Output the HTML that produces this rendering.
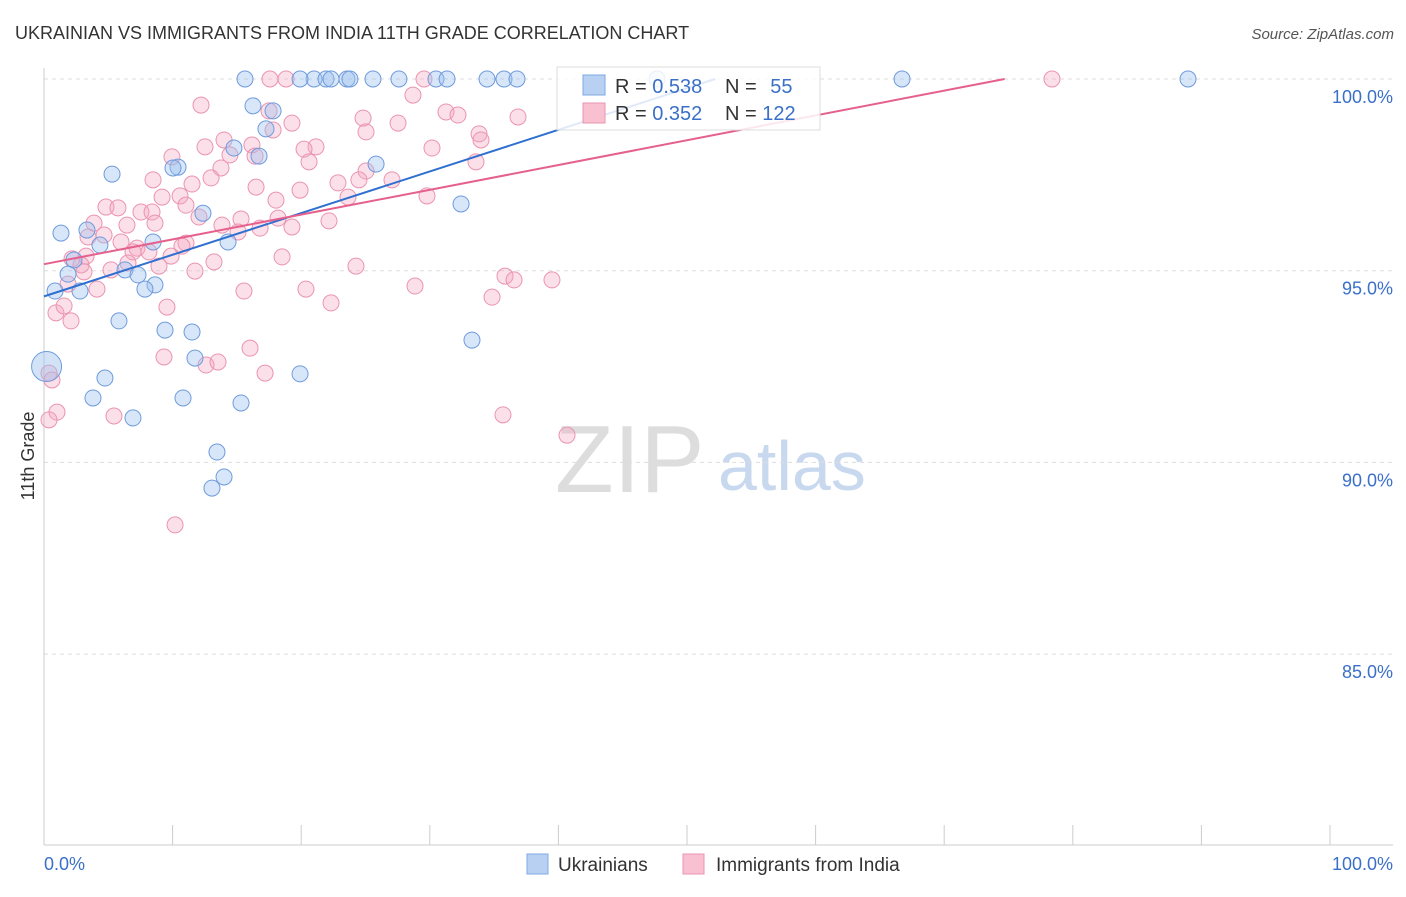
<!DOCTYPE html>
<html><head><meta charset="utf-8"><style>
body{margin:0;background:#fff;font-family:"Liberation Sans",sans-serif;}
svg text{font-family:"Liberation Sans",sans-serif;}
</style></head><body>
<svg id="chart" width="1406" height="892" xmlns="http://www.w3.org/2000/svg">
<text x="15" y="39" font-size="18" fill="#333">UKRAINIAN VS IMMIGRANTS FROM INDIA 11TH GRADE CORRELATION CHART</text>
<text x="1394" y="39" font-size="15" fill="#555" text-anchor="end" font-style="italic">Source: ZipAtlas.com</text>
<text transform="translate(34,456) rotate(-90)" font-size="18" fill="#333" text-anchor="middle">11th Grade</text>
<text x="555" y="492" font-size="96" fill="#ddd" font-family="Liberation Serif">ZIP</text>
<text x="718" y="490" font-size="70" fill="#c8d8ee">atlas</text>
<g id="grid"></g><g id="pts"></g><g id="lines"></g>
<g>
<rect x="557" y="67" width="263" height="63" fill="#fff" fill-opacity="0.85" stroke="#ddd"/>
<rect x="583" y="75" width="22" height="20" fill="#b8d1f3" stroke="#7fa8e0"/>
<rect x="583" y="103" width="22" height="20" fill="#f8c0d0" stroke="#eb94b0"/>
<text x="615" y="93" font-size="20" fill="#333">R = <tspan fill="#3a70c8">0.538</tspan></text>
<text x="725" y="93" font-size="20" fill="#333">N = <tspan fill="#3a70c8" dx="8">55</tspan></text>
<text x="615" y="120" font-size="20" fill="#333">R = <tspan fill="#3a70c8">0.352</tspan></text>
<text x="725" y="120" font-size="20" fill="#333">N = <tspan fill="#3a70c8">122</tspan></text>
</g>
<g>
<rect x="527" y="854" width="21" height="20" fill="#b8d1f3" stroke="#7fa8e0"/>
<text x="558" y="871" font-size="19" fill="#333">Ukrainians</text>
<rect x="683" y="854" width="21" height="20" fill="#f8c0d0" stroke="#eb94b0"/>
<text x="716" y="871" font-size="19" fill="#333">Immigrants from India</text>
</g>
</svg>
<script>
const yTicks=[100,95,90,85];
const yTickLabels=["100.0%","95.0%","90.0%","85.0%"];
const xTickLabels=["0.0%","100.0%"];
const bluePx=[[245,79],[314,79],[326,79],[331,79],[300,79],[347,79],[350,79],[373,79],[399,79],[436,79],[447,79],[487,79],[504,79],[517,79],[657,79],[902,79],[1188,79],[253,106],[273,111],[266,129],[234,148],[259,156],[178,167],[173,168],[376,164],[112,174],[203,213],[461,204],[61,233],[87,230],[228,242],[153,242],[100,245],[74,260],[125,270],[138,275],[68,274],[155,285],[145,289],[55,291],[80,291],[119,321],[165,330],[192,332],[472,340],[195,358],[105,378],[300,374],[93,398],[183,398],[241,403],[133,418],[217,452],[224,477],[212,488]];
const pinkPx=[[270,79],[286,79],[424,79],[1052,79],[413,95],[201,105],[269,111],[446,112],[458,115],[292,123],[363,118],[398,123],[518,117],[366,132],[479,134],[481,140],[224,140],[205,147],[252,145],[316,147],[304,149],[432,148],[273,130],[172,157],[255,156],[230,155],[309,162],[476,162],[221,168],[366,171],[153,180],[192,184],[211,178],[338,183],[359,180],[392,180],[256,187],[300,190],[162,197],[180,196],[186,205],[427,196],[348,197],[276,200],[106,207],[118,208],[141,212],[152,212],[199,217],[241,219],[94,223],[127,225],[155,223],[222,225],[329,221],[260,228],[292,227],[278,218],[238,232],[88,237],[104,235],[121,242],[186,243],[137,248],[182,246],[133,252],[149,252],[171,256],[86,256],[72,259],[81,265],[128,263],[214,262],[282,257],[356,266],[159,266],[111,270],[195,271],[84,272],[68,284],[505,276],[514,280],[552,280],[97,289],[244,291],[306,289],[415,286],[492,297],[331,303],[56,313],[167,307],[64,306],[71,321],[250,348],[164,357],[206,365],[218,362],[265,373],[49,373],[52,380],[57,412],[49,420],[114,416],[503,415],[567,435],[175,525]];
// convert to data values (x %, y %)
const blueData=bluePx.map(p=>[+((p[0]-44)/12.86).toFixed(2),+(100-(p[1]-79)/38.34).toFixed(2)]);
const pinkData=pinkPx.map(p=>[+((p[0]-44)/12.86).toFixed(2),+(100-(p[1]-79)/38.34).toFixed(2)]);
const bigBlue=[0.2,92.5];
const blueLine=[[0,94.33],[52.2,100]];
const pinkLine=[[0,95.17],[74.7,100]];
const X=v=>44+v*12.86, Y=v=>79+(100-v)*38.34;
const NS="http://www.w3.org/2000/svg";
function mk(t,a,parent){const e=document.createElementNS(NS,t);for(const k in a)e.setAttribute(k,a[k]);document.getElementById(parent).appendChild(e);return e;}
yTicks.forEach((t,i)=>{
 const l=mk('line',{x1:44,x2:1393,y1:Y(t),y2:Y(t),stroke:'#ddd','stroke-dasharray':'4,4'},'grid');
 
 
 const tx=mk('text',{x:1393,y:Y(t)+24,'font-size':18,fill:'#3a70c8','text-anchor':'end'},'grid');tx.textContent=yTickLabels[i];
 
 
});
mk('line',{x1:44,x2:44,y1:68,y2:845,stroke:'#ccc'},'grid');
mk('line',{x1:44,x2:1393,y1:845,y2:845,stroke:'#ccc'},'grid');
for(let i=0;i<=10;i++){const t=mk('line',{x1:X(i*10),x2:X(i*10),y1:825,y2:845,stroke:'#ccc'},'grid');
 
 }
[[0,'start',44],[1,'end',1393]].forEach(([i,a,x])=>{const t=mk('text',{x:x,y:870,'font-size':18,fill:'#3a70c8','text-anchor':a},'grid');t.textContent=xTickLabels[i];
 
 });
pinkData.forEach(d=>{const c=mk('circle',{cx:X(d[0]),cy:Y(d[1]),r:8,fill:'#f4a6c0','fill-opacity':0.35,stroke:'#eb94b0','stroke-width':1},'pts');
 
 });
blueData.forEach(d=>{const c=mk('circle',{cx:X(d[0]),cy:Y(d[1]),r:8,fill:'#9cc0ee','fill-opacity':0.4,stroke:'#6f9bdc','stroke-width':1},'pts');
 
 });
const bb=mk('circle',{cx:X(bigBlue[0]),cy:Y(bigBlue[1]),r:15,fill:'#9cc0ee','fill-opacity':0.45,stroke:'#6f9bdc'},'pts');


const bl=mk('line',{x1:X(blueLine[0][0]),y1:Y(blueLine[0][1]),x2:X(blueLine[1][0]),y2:Y(blueLine[1][1]),stroke:'#2f6fd0','stroke-width':2},'lines');


const pl=mk('line',{x1:X(pinkLine[0][0]),y1:Y(pinkLine[0][1]),x2:X(pinkLine[1][0]),y2:Y(pinkLine[1][1]),stroke:'#e5608c','stroke-width':2},'lines');


</script>
</body></html>
